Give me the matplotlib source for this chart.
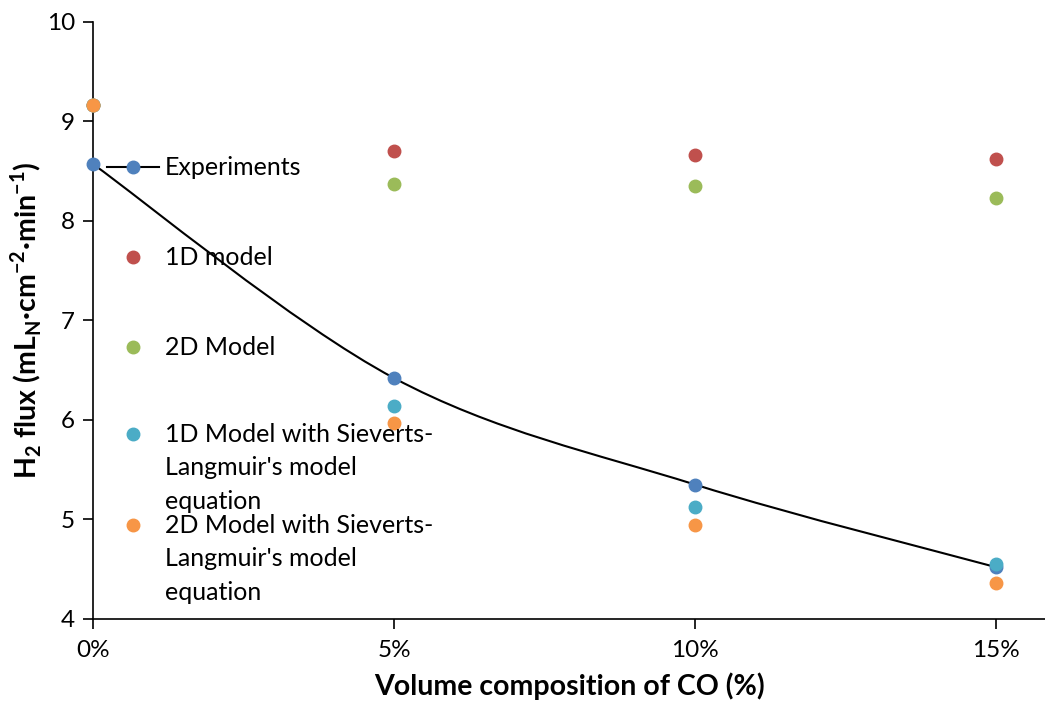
import numpy as np
import matplotlib
matplotlib.use("Agg")
import matplotlib.pyplot as plt
from matplotlib.path import Path
from matplotlib.patches import PathPatch

plt.rcParams['font.family'] = ['Lato', 'DejaVu Sans']
plt.rcParams['mathtext.fontset'] = 'custom'
plt.rcParams['mathtext.rm'] = 'Lato'
plt.rcParams['mathtext.bf'] = 'Lato:bold'

co = [0, 5, 10, 15]
xtick_labels = ["0%", "5%", "10%", "15%"]
experiments = [8.57, 6.42, 5.35, 4.52]
model_1d = [9.16, 8.70, 8.66, 8.62]
model_2d = [9.16, 8.37, 8.35, 8.23]
model_1d_sl = [9.16, 6.14, 5.12, 4.55]
model_2d_sl = [9.16, 5.97, 4.94, 4.36]

names = ["Experiments", "1D model", "2D Model",
         "1D Model with Sieverts-\nLangmuir's model\nequation",
         "2D Model with Sieverts-\nLangmuir's model\nequation"]
colors = ["#4F81BD", "#C0504D", "#9BBB59", "#4BACC6", "#F79646"]

fig = plt.figure(figsize=(10.45, 7.01), dpi=100)
ax = fig.add_axes([0.089, 0.117, 0.911, 0.852])

# smoothed line (Excel-style Bezier) through experiments
xs = np.array(co, float); ys = np.array(experiments, float)
pts = np.column_stack([xs, ys])
verts = [tuple(pts[0])]
codes = [Path.MOVETO]
n = len(pts)
for i in range(n - 1):
    p0 = pts[i - 1] if i > 0 else pts[i]
    p1 = pts[i]; p2 = pts[i + 1]
    p3 = pts[i + 2] if i + 2 < n else pts[i + 1]
    c1 = p1 + (p2 - p0) / 6.0
    c2 = p2 - (p3 - p1) / 6.0
    verts += [tuple(c1), tuple(c2), tuple(p2)]
    codes += [Path.CURVE4] * 3
ax.add_patch(PathPatch(Path(verts, codes), fill=False, edgecolor='black', lw=1.5, zorder=2))

series = [experiments, model_1d, model_2d, model_1d_sl, model_2d_sl]
ms = 9
for vals, c in zip(series, colors):
    ax.plot(co, vals, 'o', color=c, ms=ms, mec=c, zorder=3, clip_on=False)

ax.set_xlim(0, 15.81)
ax.set_ylim(4, 10)
ax.set_xticks(co)
ax.set_xticklabels(xtick_labels)
ax.set_yticks(range(4, 11))
for s in ['top', 'right']:
    ax.spines[s].set_visible(False)
for s in ['left', 'bottom']:
    ax.spines[s].set_linewidth(1.2)
ax.tick_params(axis='both', direction='out', length=7, width=1.2, labelsize=17.5)
ax.tick_params(axis='x', pad=8)
ax.tick_params(axis='y', pad=6)

ax.set_xlabel("Volume composition of CO (%)", fontsize=20.5, fontweight='bold', labelpad=8)
ax.set_ylabel(r"H$_\mathbf{2}$ flux (mL$_\mathbf{N}$·cm$^\mathbf{-2}$·min$^\mathbf{-1}$)",
              fontsize=20.5, fontweight='bold', labelpad=2)

# legend drawn manually (Excel layout with overlapping multi-line entries)
H = 0.852 * 701
W = 0.911 * 1045
def ay(py):
    return (619 - py) / H
def axx(px):
    return (px - 93) / W
leg_y = [167, 257, 347, 434, 525]
line_gap = 33.5
for name, c, py in zip(names, colors, leg_y):
    if name == "Experiments":
        ax.plot([axx(107), axx(159)], [ay(py), ay(py)], color='black', lw=1.5,
                transform=ax.transAxes, clip_on=False, zorder=5)
    ax.plot([axx(133)], [ay(py)], 'o', color=c, mec=c, ms=ms,
            transform=ax.transAxes, clip_on=False, zorder=6)
    for k, line in enumerate(name.split("\n")):
        ax.text(axx(165), ay(py + 8 + k * line_gap), line, transform=ax.transAxes,
                fontsize=18, va='baseline', ha='left')

fig.savefig("out.png", dpi=100)
